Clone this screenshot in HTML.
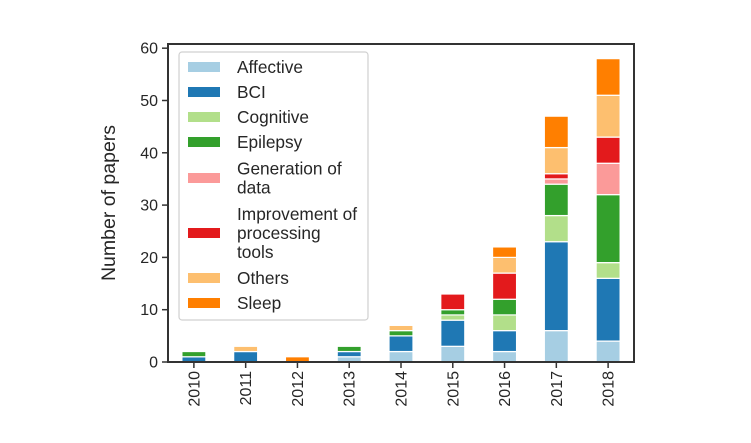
<!DOCTYPE html>
<html><head><meta charset="utf-8"><style>
body{margin:0;background:#fff}
svg{display:block;font-family:"Liberation Sans","DejaVu Sans",sans-serif}
</style></head><body>
<svg id="chart" width="751" height="443"></svg>
<script>
const years=["2010","2011","2012","2013","2014","2015","2016","2017","2018"];
const seriesNames=["Affective","BCI","Cognitive","Epilepsy","Generation of data","Improvement of processing tools","Others","Sleep"];
const affective=[0,0,0,1,2,3,2,6,4];
const bci=[1,2,0,1,3,5,4,17,12];
const cognitive=[0,0,0,0,0,1,3,5,3];
const epilepsy=[1,0,0,1,1,1,3,6,13];
const generation=[0,0,0,0,0,0,0,1,6];
const improvement=[0,0,0,0,0,3,5,1,5];
const others=[0,1,0,0,1,0,3,5,8];
const sleep=[0,0,1,0,0,0,2,6,7];
const yTicks=[0,10,20,30,40,50,60];
const colors=["#a6cee3","#1f78b4","#b2df8a","#33a02c","#fb9a99","#e31a1c","#fdbf6f","#ff7f00"];
const series=[affective,bci,cognitive,epilepsy,generation,improvement,others,sleep];
const NS="http://www.w3.org/2000/svg";
const svg=document.getElementById("chart");
const L=168,R=634,T=44,B=362,ymax=60.8;
const y=v=>B-(v/ymax)*(B-T);
const step=(R-L)/years.length;
const x=i=>L+step*(i+0.5);
function mk(t,a){const e=document.createElementNS(NS,t);for(const k in a)e.setAttribute(k,a[k]);svg.appendChild(e);return e;}
years.forEach((yr,i)=>{
  let base=0;
  series.forEach((s,k)=>{
    const v=s[i];
    if(v>0){
      const r=mk("rect",{x:x(i)-12,y:y(base+v),width:24,height:y(base)-y(base+v),fill:colors[k],stroke:"#fff","stroke-width":1.2});
      
      
    }
    base+=v;
  });
  mk("line",{x1:x(i),x2:x(i),y1:B,y2:B+6,stroke:"#333","stroke-width":1.5});
  const t=mk("text",{transform:`translate(${x(i)+5.5},${B+9}) rotate(-90)`,"text-anchor":"end","font-size":16,fill:"#262626"});
  t.textContent=yr;
  
  
});
yTicks.forEach(v=>{
  mk("line",{x1:L-6,x2:L,y1:y(v),y2:y(v),stroke:"#333","stroke-width":1.5});
  const t=mk("text",{x:L-10,y:y(v)+5.5,"text-anchor":"end","font-size":16,fill:"#262626"});
  t.textContent=v;
  
  
});
const frame=mk("rect",{x:L,y:T,width:R-L,height:B-T,fill:"none",stroke:"#333","stroke-width":2});


const yl=mk("text",{transform:`translate(115,203) rotate(-90)`,"text-anchor":"middle","font-size":19.5,fill:"#262626"});
yl.textContent="Number of papers";


const lg=mk("rect",{x:179,y:52,width:189,height:268,rx:3,fill:"#fff",stroke:"#ccc","stroke-width":1.2,opacity:0.9});


const legendLines=[["Affective"],["BCI"],["Cognitive"],["Epilepsy"],["Generation of","data"],["Improvement of","processing","tools"],["Others"],["Sleep"]];
const legendY=[67,92,117,142,178,233,278,303];
legendLines.forEach((lines,k)=>{
  const p=mk("rect",{x:188,y:legendY[k]-5,width:32,height:10,fill:colors[k]});
  
  
  lines.forEach((ln,j)=>{
    const t=mk("text",{x:237,y:legendY[k]+6+(j-(lines.length-1)/2)*19,"font-size":17.3,fill:"#262626"});
    t.textContent=ln;
    
    
  });
});
</script>
</body></html>
